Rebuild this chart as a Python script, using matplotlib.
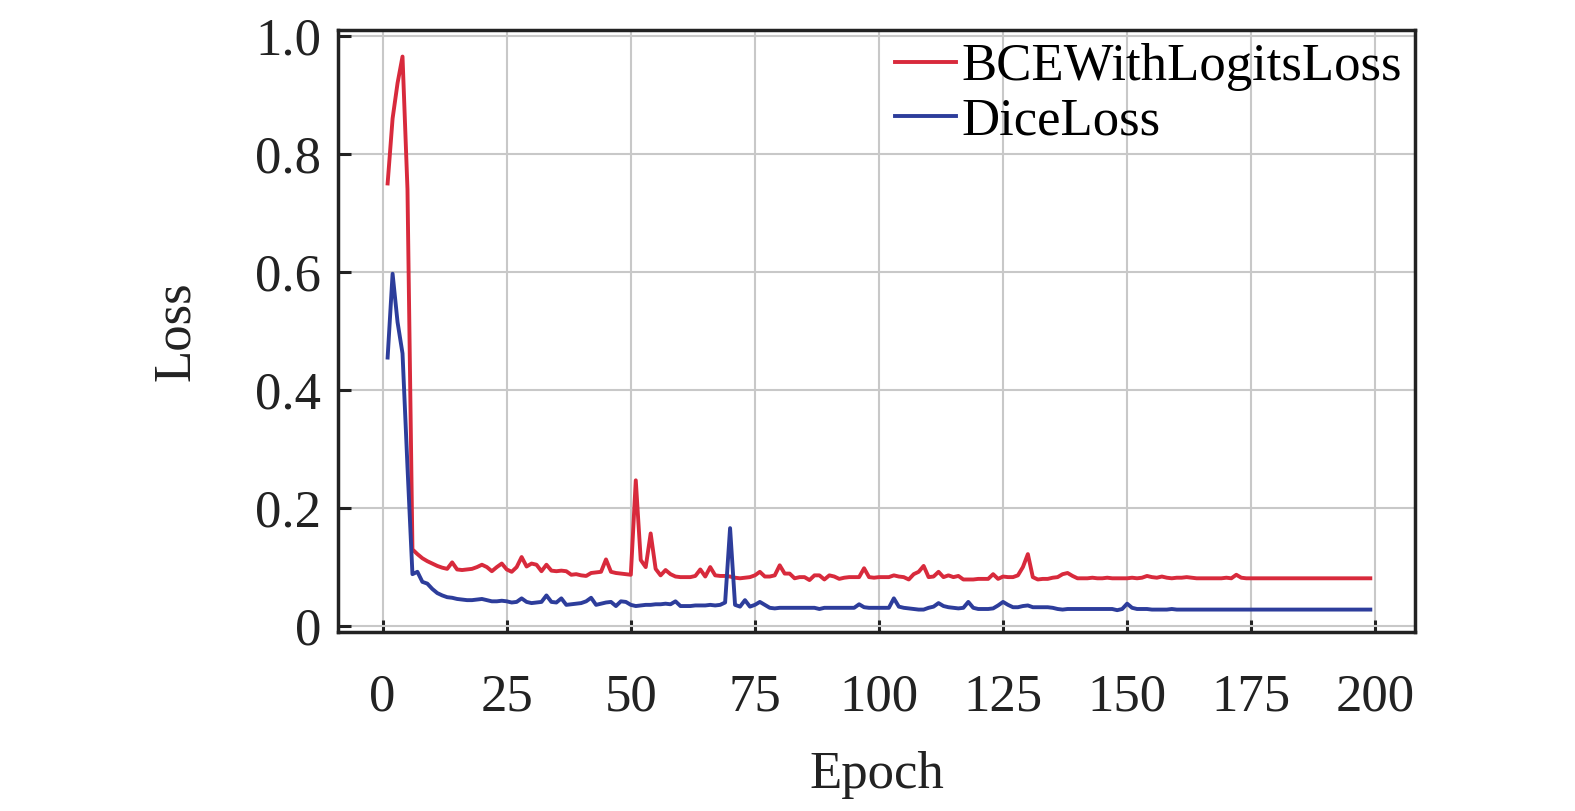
import matplotlib
matplotlib.use("Agg")
import matplotlib.pyplot as plt
import numpy as np

epochs = list(range(1, 200))

bce_loss = [
    0.75, 0.86, 0.92, 0.965, 0.74, 0.13, 0.122, 0.115, 0.11, 0.106,
    0.102, 0.099, 0.097, 0.108, 0.096, 0.095, 0.096, 0.097, 0.1, 0.104,
    0.1, 0.093, 0.1, 0.106, 0.096, 0.092, 0.1, 0.117, 0.101, 0.106,
    0.104, 0.093, 0.104, 0.094, 0.093, 0.094, 0.093, 0.087, 0.088, 0.086,
    0.085, 0.09, 0.091, 0.092, 0.113, 0.092, 0.09, 0.089, 0.088, 0.087,
    0.247, 0.112, 0.1, 0.157, 0.097, 0.086, 0.095, 0.088, 0.084, 0.083,
    0.083, 0.083, 0.085, 0.096, 0.084, 0.1, 0.086, 0.085, 0.085, 0.084,
    0.082, 0.081, 0.082, 0.083, 0.086, 0.092, 0.084, 0.084, 0.086, 0.103,
    0.089, 0.089, 0.081, 0.083, 0.083, 0.078, 0.086, 0.086, 0.079, 0.086,
    0.084, 0.08, 0.082, 0.083, 0.083, 0.083, 0.098, 0.083, 0.082, 0.083,
    0.083, 0.083, 0.086, 0.084, 0.083, 0.079, 0.088, 0.092, 0.102, 0.083,
    0.084, 0.092, 0.083, 0.086, 0.083, 0.085, 0.079, 0.079, 0.079, 0.08,
    0.08, 0.08, 0.088, 0.08, 0.084, 0.083, 0.083, 0.086, 0.1, 0.122,
    0.083, 0.079, 0.08, 0.08, 0.082, 0.083, 0.088, 0.09, 0.085, 0.081,
    0.081, 0.081, 0.082, 0.081, 0.081, 0.082, 0.081, 0.081, 0.081, 0.081,
    0.082, 0.081, 0.082, 0.085, 0.083, 0.082, 0.084, 0.082, 0.081, 0.082,
    0.082, 0.083, 0.082, 0.081, 0.081, 0.081, 0.081, 0.081, 0.081, 0.082,
    0.081, 0.087, 0.082, 0.081, 0.081, 0.081, 0.081, 0.081, 0.081, 0.081,
    0.081, 0.081, 0.081, 0.081, 0.081, 0.081, 0.081, 0.081, 0.081, 0.081,
    0.081, 0.081, 0.081, 0.081, 0.081, 0.081, 0.081, 0.081, 0.081,
]

dice_loss = [
    0.455, 0.597, 0.515, 0.462, 0.27, 0.088, 0.092, 0.075, 0.072, 0.063,
    0.056, 0.052, 0.049, 0.048, 0.046, 0.045, 0.044, 0.044, 0.045, 0.046,
    0.044, 0.042, 0.042, 0.043, 0.042, 0.04, 0.041, 0.047, 0.041, 0.039,
    0.04, 0.041, 0.052, 0.041, 0.04, 0.047, 0.036, 0.037, 0.038, 0.039,
    0.042, 0.048, 0.036, 0.038, 0.04, 0.041, 0.034, 0.042, 0.041, 0.036,
    0.034, 0.035, 0.036, 0.036, 0.037, 0.037, 0.038, 0.037, 0.042, 0.034,
    0.034, 0.034, 0.035, 0.035, 0.035, 0.036, 0.035, 0.036, 0.04, 0.166,
    0.036, 0.033, 0.044, 0.033, 0.036, 0.041, 0.036, 0.031, 0.03, 0.031,
    0.031, 0.031, 0.031, 0.031, 0.031, 0.031, 0.031, 0.029, 0.031, 0.031,
    0.031, 0.031, 0.031, 0.031, 0.031, 0.037, 0.032, 0.031, 0.031, 0.031,
    0.031, 0.031, 0.047, 0.033, 0.031, 0.03, 0.029, 0.028, 0.028, 0.031,
    0.033, 0.039, 0.034, 0.032, 0.031, 0.03, 0.031, 0.041, 0.031, 0.029,
    0.029, 0.029, 0.03, 0.035, 0.041, 0.036, 0.032, 0.032, 0.034, 0.035,
    0.032, 0.032, 0.032, 0.032, 0.031, 0.029, 0.028, 0.029, 0.029, 0.029,
    0.029, 0.029, 0.029, 0.029, 0.029, 0.029, 0.029, 0.027, 0.029, 0.038,
    0.031, 0.029, 0.029, 0.029, 0.028, 0.028, 0.028, 0.028, 0.029, 0.028,
    0.028, 0.028, 0.028, 0.028, 0.028, 0.028, 0.028, 0.028, 0.028, 0.028,
    0.028, 0.028, 0.028, 0.028, 0.028, 0.028, 0.028, 0.028, 0.028, 0.028,
    0.028, 0.028, 0.028, 0.028, 0.028, 0.028, 0.028, 0.028, 0.028, 0.028,
    0.028, 0.028, 0.028, 0.028, 0.028, 0.028, 0.028, 0.028, 0.028,
]

x_ticks = [0, 25, 50, 75, 100, 125, 150, 175, 200]
y_ticks = [0, 0.2, 0.4, 0.6, 0.8, 1.0]
y_tick_labels = ["0", "0.2", "0.4", "0.6", "0.8", "1.0"]

plt.rcParams['font.family'] = ['Liberation Serif', 'DejaVu Serif']
plt.rcParams['mathtext.fontset'] = 'stix'

FS = 38

fig = plt.figure(figsize=(15.75, 8.11), dpi=100)
ax = fig.add_axes([0.2146, 0.2207, 0.6838, 0.7423])

ax.plot(epochs, bce_loss, color='#d82a3c', lw=2.8, label='BCEWithLogitsLoss', zorder=3)
ax.plot(epochs, dice_loss, color='#2d3d9b', lw=2.8, label='DiceLoss', zorder=3)

ax.set_xlim(-9, 208)
ax.set_ylim(-0.01, 1.01)
ax.set_xticks(x_ticks)
ax.set_yticks(y_ticks)
ax.set_yticklabels(y_tick_labels)

ax.grid(True, color='#c8c8c8', lw=1.5, zorder=0)
ax.set_axisbelow(True)

for s in ax.spines.values():
    s.set_linewidth(2.5)
    s.set_color('#222222')

ax.tick_params(axis='both', direction='in', length=9, width=2.2, colors='#222222',
               labelsize=FS, labelcolor='#222222')
ax.tick_params(axis='x', pad=30)
ax.tick_params(axis='y', pad=12)

ax.set_xlabel('Epoch', fontsize=FS, color='#222222', labelpad=21)
ax.set_ylabel('Loss', fontsize=FS, color='#222222', labelpad=40)

leg = ax.legend(loc='upper right', frameon=False, fontsize=FS, handlelength=1.15,
                handletextpad=0.1, labelspacing=0.12, borderaxespad=0.05,
                borderpad=0.2)

fig.savefig('out.png', dpi=100)
